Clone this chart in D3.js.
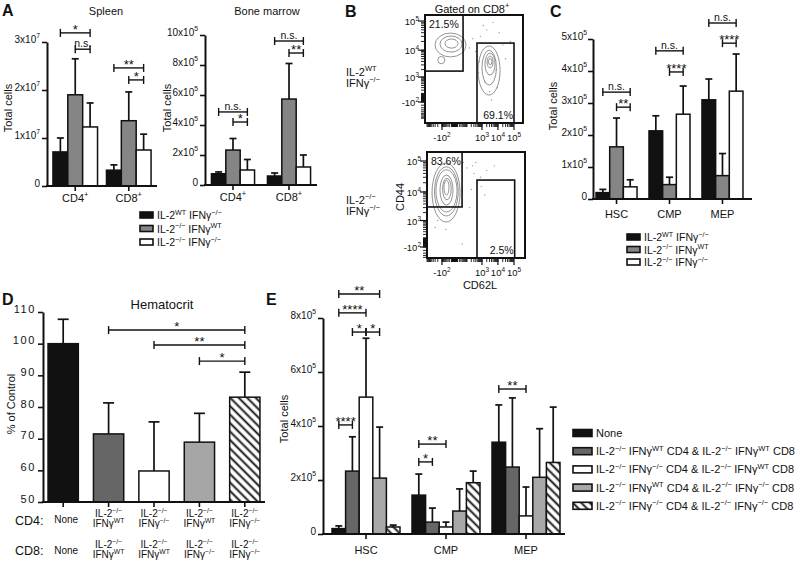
<!DOCTYPE html>
<html><head><meta charset="utf-8">
<script src="https://cdn.jsdelivr.net/npm/d3@7/dist/d3.min.js"></script>
<style>body{margin:0;background:#fff}svg{font-family:"Liberation Sans",Arial,sans-serif}</style>
</head><body>
<svg id="chart" width="800" height="565"></svg>
<script>
// ================= DATA =================
// Panel A
const cellTypesA = ["CD4^{+}", "CD8^{+}"];
const seriesNamesA = ["IL-2^{WT} IFNγ^{−/−}", "IL-2^{−/−} IFNγ^{WT}", "IL-2^{−/−} IFNγ^{−/−}"];
const spleenBlack = [7.1e6, 3.3e6], spleenBlackErr = [2.9e6, 1.1e6];
const spleenGray = [1.9e7, 1.36e7], spleenGrayErr = [7.5e6, 6.0e6];
const spleenWhite = [1.23e7, 7.5e6], spleenWhiteErr = [5.0e6, 3.3e6];
const spleenTicks = [0, 1e7, 2e7, 3e7];
const spleenTickLabels = ["0", "1x10^{7}", "2x10^{7}", "3x10^{7}"];
const spleenSig = [[0,0,0,2,3.19e7,"*"],[0,1,0,2,2.85e7,"n.s."],[1,0,1,2,2.46e7,"**"],[1,1,1,2,2.21e7,"*"]];
const bmBlack = [7.5e4, 6.0e4], bmBlackErr = [1.2e4, 2.0e4];
const bmGray = [2.33e5, 5.73e5], bmGrayErr = [7.7e4, 2.37e5];
const bmWhite = [1.0e5, 1.2e5], bmWhiteErr = [7.0e4, 8.0e4];
const bmTicks = [0, 2e5, 4e5, 6e5, 8e5, 1e6];
const bmTickLabels = ["0", "2x10^{5}", "4x10^{5}", "6x10^{5}", "8x10^{5}", "10x10^{5}"];
const bmSig = [[0,0,0,2,4.87e5,"n.s."],[0,1,0,2,4.2e5,"*"],[1,0,1,2,9.6e5,"n.s."],[1,1,1,2,8.8e5,"**"]];

// Panel B (flow cytometry, values in fluorescence units)
const flowTickValues = [-100, 1000, 10000, 100000];
const flowTickLabels = ["-10^{2}", "10^{3}", "10^{4}", "10^{5}"];
const flowTopGates = [[-1e5, 48, 1750, 1e7], [480, 1e5, -1e5, 17600]];
const flowTopPct = ["21.5%", "69.1%"];
const flowBottomGates = [[-1e5, 39, 3150, 1e7], [480, 1.1e5, -1e5, 24400]];
const flowBottomPct = ["83.6%", "2.5%"];
const flowTopRings = [[-306,84,38800,5800],[-140,39,30800,8600],[-58,13,24300,11800],[-200,-60,6000,3300],
  [563,13560,14000,58],[1000,8000,10000,420],[1550,6580,7950,1220],[2100,4970,6250,2300],[2600,4200,5200,3000]];
const flowBottomRings = [[-480,24,85700,870],[-330,14,65000,1500],[-264,8.7,52000,2100],[-140,-4.7,35500,3650],[-90,-12,28000,5500],[-70,-24,24400,7950]];
const flowTopDots = [[800,30000],[2000,50000],[5000,90000],[12000,40000],[400,9000],[1500,600],[3000,150],[8000,2000],
  [20000,15000],[250,25000],[700,4000],[4000,-50],[30000,5000],[1200,70000],[600,1500],[9000,300],[150,12000],[60000,20000]];
const flowBottomDots = [[100,60000],[300,40000],[500,20000],[50,90000],[200,12000],[-200,1000],[-50,400],[40,-30],
  [800,30000],[2000,50000],[-300,500],[150,3000],[1500,8000],[400,90000],[6000,70000],[900,15000],[250,70000]];

// Panel C
const progenitorsC = ["HSC", "CMP", "MEP"];
const cBlack = [2.0e4, 2.13e5, 3.1e5], cBlackErr = [1.0e4, 4.7e4, 6.5e4];
const cGray = [1.63e5, 4.5e4, 7.3e4], cGrayErr = [9.0e4, 2.3e4, 6.9e4];
const cWhite = [3.8e4, 2.65e5, 3.37e5], cWhiteErr = [2.2e4, 8.8e4, 1.16e5];
const cTicks = [0, 1e5, 2e5, 3e5, 4e5, 5e5];
const cTickLabels = ["0", "1x10^{5}", "2x10^{5}", "3x10^{5}", "4x10^{5}", "5x10^{5}"];
const cSig = [[0,0,0,2,3.34e5,"n.s."],[0,1,0,2,2.87e5,"**"],[1,0,1,2,4.63e5,"n.s."],[1,1,1,2,3.97e5,"****"],[2,0,2,2,5.5e5,"n.s."],[2,1,2,2,4.87e5,"****"]];

// Panel D
const groupsD = ["None", "A", "B", "C", "D"];
const cd4LabelsD = ["None", "IL-2^{−/−}|IFNγ^{WT}", "IL-2^{−/−}|IFNγ^{−/−}", "IL-2^{−/−}|IFNγ^{WT}", "IL-2^{−/−}|IFNγ^{−/−}"];
const cd8LabelsD = ["None", "IL-2^{−/−}|IFNγ^{WT}", "IL-2^{−/−}|IFNγ^{WT}", "IL-2^{−/−}|IFNγ^{−/−}", "IL-2^{−/−}|IFNγ^{−/−}"];
const hematocrit = [100, 71.5, 59.8, 68.9, 83.1];
const hematocritErr = [7.7, 9.8, 15.5, 9.1, 7.9];
const dTicks = [50, 60, 70, 80, 90, 100, 110];
const dTickLabels = ["50", "60", "70", "80", "90", "100", "110"];
const dSig = [[1,0,4,0,104.3,"*"],[2,0,4,0,99.6,"**"],[3,0,4,0,94.5,"*"]];

// Panel E
const progenitorsE = ["HSC", "CMP", "MEP"];
const seriesNamesE = ["None",
  "IL-2^{−/−} IFNγ^{WT} CD4 & IL-2^{−/−} IFNγ^{WT} CD8",
  "IL-2^{−/−} IFNγ^{−/−} CD4 & IL-2^{−/−} IFNγ^{WT} CD8",
  "IL-2^{−/−} IFNγ^{WT} CD4 & IL-2^{−/−} IFNγ^{−/−} CD8",
  "IL-2^{−/−} IFNγ^{−/−} CD4 & IL-2^{−/−} IFNγ^{−/−} CD8"];
const eNone = [2.0e4, 1.44e5, 3.4e5], eNoneErr = [1.0e4, 7.8e4, 1.38e5];
const eWtWt = [2.33e5, 4.4e4, 2.48e5], eWtWtErr = [1.27e5, 5.2e4, 2.56e5];
const eKoWt = [5.07e5, 2.6e4, 6.7e4], eKoWtErr = [2.18e5, 1.8e4, 1.07e5];
const eWtKo = [2.07e5, 8.5e4, 2.1e5], eWtKoErr = [1.89e5, 8.2e4, 1.8e5];
const eKoKo = [2.6e4, 1.9e5, 2.65e5], eKoKoErr = [7.0e3, 4.3e4, 2.05e5];
const eTicks = [0, 2e5, 4e5, 6e5, 8e5];
const eTickLabels = ["0", "2x10^{5}", "4x10^{5}", "6x10^{5}", "8x10^{5}"];
const eSig = [[0,0,0,3,8.89e5,"**"],[0,0,0,2,8.19e5,"****"],[0,1,0,2,7.48e5,"*"],[0,2,0,3,7.48e5,"*"],
  [0,0,0,1,4.04e5,"****"],[1,0,1,2,3.33e5,"**"],[1,0,1,1,2.67e5,"*"],[2,0,2,2,5.37e5,"**"]];

// ================= DRAWING =================
const INK = "#111";
const svg = d3.select("#chart");
const defs = svg.append("defs");
const pat = defs.append("pattern").attr("id","hatch").attr("patternUnits","userSpaceOnUse")
  .attr("width",6).attr("height",6).attr("patternTransform","rotate(-45)");
pat.append("rect").attr("width",6).attr("height",6).attr("fill","#fff");
pat.append("line").attr("x1",1.5).attr("x2",1.5).attr("y1",0).attr("y2",6).attr("stroke",INK).attr("stroke-width",1.9);

function rich(t, str, fs){
  const parts = str.split(/(\^\{[^}]*\})/).filter(s => s.length > 0);
  let up = false; const sh = +(fs*0.42).toFixed(2);
  for (const p of parts){
    if (p.startsWith("^{")){ t.append("tspan").attr("dy", up?0:-sh).attr("font-size", fs*0.68).text(p.slice(2,-1)); up = true; }
    else { t.append("tspan").attr("dy", up?sh:0).attr("font-size", fs).text(p); up = false; }
  }
  return t;
}
function label(g, x, y, str, fs, anchor="start", weight=null){
  const t = g.append("text").attr("x",x).attr("y",y).attr("font-size",fs).attr("text-anchor",anchor).attr("fill",INK);
  if (weight) t.attr("font-weight", weight);
  return rich(t, str, fs);
}
function bracket(g, x1, x2, y, txt){
  g.append("line").attr("x1",x1).attr("x2",x2).attr("y1",y).attr("y2",y).attr("stroke",INK).attr("stroke-width",1.4);
  [x1,x2].forEach(x => g.append("line").attr("x1",x).attr("x2",x).attr("y1",y-4).attr("y2",y+4).attr("stroke",INK).attr("stroke-width",1.4));
  const star = txt.startsWith("*");
  g.append("text").attr("x",(x1+x2)/2).attr("y", star ? y+1 : y-2).attr("text-anchor","middle")
    .attr("font-size", star ? 13 : 10.5).attr("fill",INK).text(txt);
}

function barPanel(o){
  const g = svg.append("g");
  const x0 = d3.scaleBand().domain(d3.range(o.cats.length)).range(o.xRange).paddingInner(o.pi).paddingOuter(o.po);
  const x1 = d3.scaleBand().domain(d3.range(o.series.length)).range([0, x0.bandwidth()]);
  const base = o.y(o.y.domain()[0]);
  const cx = (c,s) => x0(c) + x1(s) + x1.bandwidth()/2;
  o.series.forEach((s, si) => {
    s.vals.forEach((v, ci) => {
      const x = x0(ci) + x1(si), w = x1.bandwidth(), top = o.y(v), et = o.y(v + s.errs[ci]);
      const fill = Array.isArray(s.fill) ? s.fill[ci] : s.fill;
      g.append("line").attr("x1",x+w/2).attr("x2",x+w/2).attr("y1",top).attr("y2",et).attr("stroke",INK).attr("stroke-width",1.7);
      g.append("line").attr("x1",x+w/2-o.cap/2).attr("x2",x+w/2+o.cap/2).attr("y1",et).attr("y2",et).attr("stroke",INK).attr("stroke-width",1.7);
      g.append("rect").attr("x",x).attr("y",top).attr("width",w).attr("height",base-top)
        .attr("fill",fill).attr("stroke",INK).attr("stroke-width",1.5);
    });
  });
  // y axis
  const ya = g.append("g").attr("transform",`translate(${o.xRange[0]},0)`)
    .call(d3.axisLeft(o.y).tickValues(o.yTicks).tickSize(5).tickSizeOuter(0).tickPadding(o.tp || 2));
  ya.attr("font-family", null).attr("font-size", null);
  ya.select(".domain").attr("stroke",INK).attr("stroke-width",2);
  ya.selectAll(".tick line").attr("stroke",INK).attr("stroke-width",1.6);
  ya.selectAll(".tick text").each(function(d,i){
    const t = d3.select(this).text(null).attr("font-size",o.fs).attr("fill",INK);
    if (o.ls) t.attr("letter-spacing", o.ls);
    rich(t, o.yLabels[i], o.fs);
  });
  // x axis
  g.append("line").attr("x1",o.xRange[0]-1).attr("x2",o.axisEnd).attr("y1",base).attr("y2",base).attr("stroke",INK).attr("stroke-width",2);
  const tickXs = o.tickEachBar ? o.cats.map((c,ci)=>cx(ci,0)) : o.cats.map((c,ci)=>x0(ci)+x0.bandwidth()/2);
  tickXs.forEach(tx => g.append("line").attr("x1",tx).attr("x2",tx).attr("y1",base).attr("y2",base+5).attr("stroke",INK).attr("stroke-width",1.6));
  if (o.xLabels) o.cats.forEach((c,ci) => label(g, tickXs[ci], base + o.xlOff, c, 11, "middle"));
  // y title
  if (o.yTitle){
    g.append("text").attr("transform",`translate(${o.ytX},${o.ytY}) rotate(-90)`).attr("text-anchor","middle")
      .attr("font-size",o.ytFs || 11).attr("fill",INK).text(o.yTitle);
  }
  (o.sig||[]).forEach(s => bracket(g, cx(s[0],s[1]), cx(s[2],s[3]), o.y(s[4]), s[5]));
  return {g, x0, x1, cx, base};
}

const fillsA = ["#111", "#858585", "#fff"];

// ---- Panel A ----
label(svg, 2, 16, "A", 16, "start", "bold");
label(svg, 106, 15, "Spleen", 11, "middle");
barPanel({cats: cellTypesA, xRange:[47,157], pi:0.167, po:0.111, axisEnd:157,
  y: d3.scaleLinear().domain([0,3e7]).range([186,42]), yTicks: spleenTicks, yLabels: spleenTickLabels, fs:10,
  series:[{vals:spleenBlack,errs:spleenBlackErr,fill:fillsA[0]},{vals:spleenGray,errs:spleenGrayErr,fill:fillsA[1]},{vals:spleenWhite,errs:spleenWhiteErr,fill:fillsA[2]}],
  cap:7, xLabels:true, xlOff:16, yTitle:"Total cells", ytX:12, ytY:108, sig: spleenSig});
label(svg, 267, 15, "Bone marrow", 11, "middle");
barPanel({cats: cellTypesA, xRange:[205,317], pi:0.23, po:0.115, axisEnd:317,
  y: d3.scaleLinear().domain([0,1e6]).range([185,35]), yTicks: bmTicks, yLabels: bmTickLabels, fs:10,
  series:[{vals:bmBlack,errs:bmBlackErr,fill:fillsA[0]},{vals:bmGray,errs:bmGrayErr,fill:fillsA[1]},{vals:bmWhite,errs:bmWhiteErr,fill:fillsA[2]}],
  cap:7, xLabels:true, xlOff:16, yTitle:"Total cells", ytX:171, ytY:108, sig: bmSig});
function legend(x, y0, dy, bw, bh, names, fills, fs){
  names.forEach((n,i) => {
    const y = y0 + i*dy;
    svg.append("rect").attr("x",x).attr("y",y-bh/2).attr("width",bw).attr("height",bh).attr("fill",fills[i]).attr("stroke",INK).attr("stroke-width",1.6);
    label(svg, x+bw+4, y+4, n, fs);
  });
}
legend(140, 215, 13.5, 13, 6, seriesNamesA, fillsA, 10.5);

// ---- Panel B ----
label(svg, 345, 17, "B", 16, "start", "bold");
label(svg, 472, 13, "Gated on CD8^{+}", 11, "middle");
label(svg, 346, 76, "IL-2^{WT}", 11); label(svg, 346, 87, "IFNγ^{−/−}", 11);
label(svg, 346, 204, "IL-2^{−/−}", 11); label(svg, 346, 215, "IFNγ^{−/−}", 11);

function flowPlot(p){
  const g = svg.append("g");
  const [fx0, fy0, fx1, fy1] = p.frame;
  const sx = d3.scaleSymlog().constant(20).domain([-100,1e5]).range(p.xr);
  const sy = d3.scaleSymlog().constant(250).domain([-100,1e5]).range(p.yr);
  const cX = v => Math.max(fx0, Math.min(fx1, sx(v)));
  const cY = v => Math.max(fy0, Math.min(fy1, sy(v)));
  p.dots.forEach(d => g.append("circle").attr("cx",sx(d[0])).attr("cy",sy(d[1])).attr("r",0.7).attr("fill","#999"));
  p.rings.forEach((r,i) => {
    const x1 = sx(r[0]), x2 = sx(r[1]), y1 = sy(r[2]), y2 = sy(r[3]);
    g.append("ellipse").attr("cx",(x1+x2)/2).attr("cy",(y1+y2)/2).attr("rx",Math.abs(x2-x1)/2).attr("ry",Math.abs(y2-y1)/2)
      .attr("fill","none").attr("stroke","#777").attr("stroke-width",0.8);
  });
  p.gates.forEach(q => {
    const x1 = cX(q[0]), x2 = cX(q[1]), y1 = cY(q[3]), y2 = cY(q[2]);
    g.append("rect").attr("x",x1).attr("y",y1).attr("width",x2-x1).attr("height",y2-y1).attr("fill","none").attr("stroke",INK).attr("stroke-width",1.6);
  });
  const g0 = p.gates[0], g1 = p.gates[1];
  label(g, cX(g0[0])+4, cY(g0[3])+13, p.pct[0], 10.5);
  label(g, cX(g1[1])-1, fy1-4, p.pct[1], 10.5, "end");
  g.append("rect").attr("x",fx0).attr("y",fy0).attr("width",fx1-fx0).attr("height",fy1-fy0).attr("fill","none").attr("stroke",INK).attr("stroke-width",2);
  const minor = [];
  [1,10,100,1000,10000].forEach(dec => d3.range(1,10).forEach(m => { minor.push(m*dec); if (m*dec <= 1000) minor.push(-m*dec); }));
  minor.push(0);
  minor.forEach(v => {
    const x = sx(v); if (x >= fx0 && x <= fx1) g.append("line").attr("x1",x).attr("x2",x).attr("y1",fy1+1).attr("y2",fy1+4).attr("stroke",INK).attr("stroke-width",0.9);
    const y = sy(v); if (y >= fy0 && y <= fy1) g.append("line").attr("x1",fx0-1).attr("x2",fx0-4).attr("y1",y).attr("y2",y).attr("stroke",INK).attr("stroke-width",0.9);
  });
  flowTickValues.forEach((v,i) => {
    const x = sx(v), y = sy(v);
    g.append("line").attr("x1",x).attr("x2",x).attr("y1",fy1+1).attr("y2",fy1+7).attr("stroke",INK).attr("stroke-width",1.2);
    g.append("line").attr("x1",fx0-1).attr("x2",fx0-7).attr("y1",y).attr("y2",y).attr("stroke",INK).attr("stroke-width",1.2);
    label(g, x, fy1+18, flowTickLabels[i], 9.5, "middle");
    label(g, fx0-6, y+4, flowTickLabels[i], 9.5, "end");
  });
}
flowPlot({frame:[425,15,523,123], xr:[442,514], yr:[102,21], gates:flowTopGates, pct:flowTopPct, rings:flowTopRings, dots:flowTopDots});
flowPlot({frame:[427,152,525,258], xr:[442,514], yr:[247,161], gates:flowBottomGates, pct:flowBottomPct, rings:flowBottomRings, dots:flowBottomDots});
svg.append("text").attr("x",480).attr("y",289).attr("text-anchor","middle").attr("font-size",11).attr("fill",INK).text("CD62L");
svg.append("text").attr("transform","translate(404,197) rotate(-90)").attr("text-anchor","middle").attr("font-size",11).attr("fill",INK).text("CD44");

// ---- Panel C ----
label(svg, 550, 17, "C", 16, "start", "bold");
barPanel({cats: progenitorsC, xRange:[593,746], pi:0.226, po:0.057, axisEnd:752,
  y: d3.scaleLinear().domain([0,5e5]).range([199,39]), yTicks: cTicks, yLabels: cTickLabels, fs:10, tp:1,
  series:[{vals:cBlack,errs:cBlackErr,fill:fillsA[0]},{vals:cGray,errs:cGrayErr,fill:fillsA[1]},{vals:cWhite,errs:cWhiteErr,fill:fillsA[2]}],
  cap:7, xLabels:true, xlOff:19, yTitle:"Total cells", ytX:557, ytY:106, sig: cSig});
legend(627, 237, 12.5, 13, 6, seriesNamesA, fillsA, 10.5);

// ---- Panel D ----
label(svg, 2, 305, "D", 16, "start", "bold");
label(svg, 162, 309, "Hematocrit", 13, "middle");
const dP = barPanel({cats: groupsD, xRange:[43,265], pi:0.333, po:0.111, axisEnd:265,
  y: d3.scaleLinear().domain([50,110]).range([502,312]), yTicks: dTicks, yLabels: dTickLabels, fs:11, ls:1.6,
  series:[{vals:hematocrit, errs:hematocritErr, fill:["#111","#666","#fff","#a6a6a6","url(#hatch)"]}],
  cap:11, tickEachBar:true, xLabels:false, yTitle:"% of Control", ytX:15, ytY:404, sig: dSig});
label(svg, 15, 525, "CD4:", 12.5);
label(svg, 15, 555, "CD8:", 12.5);
[[cd4LabelsD, 517], [cd8LabelsD, 548]].forEach(([labs, yb]) => {
  labs.forEach((s, i) => {
    const x = dP.cx(i,0);
    if (s === "None") label(svg, x+3, yb+6, s, 10, "middle");
    else { const [a,b] = s.split("|"); label(svg, x, yb, a, 10, "middle"); label(svg, x, yb+10, b, 10, "middle"); }
  });
});

// ---- Panel E ----
label(svg, 266, 305, "E", 16, "start", "bold");
const fillsE = ["#111", "#666", "#fff", "#a8a8a8", "url(#hatch)"];
barPanel({cats: progenitorsE, xRange:[323,569], pi:0.15, po:0.1125, axisEnd:565,
  y: d3.scaleLinear().domain([0,8e5]).range([534,318]), yTicks: eTicks, yLabels: eTickLabels, fs:10,
  series:[{vals:eNone,errs:eNoneErr,fill:fillsE[0]},{vals:eWtWt,errs:eWtWtErr,fill:fillsE[1]},{vals:eKoWt,errs:eKoWtErr,fill:fillsE[2]},
          {vals:eWtKo,errs:eWtKoErr,fill:fillsE[3]},{vals:eKoKo,errs:eKoKoErr,fill:fillsE[4]}],
  cap:7, xLabels:true, xlOff:20, yTitle:"Total cells", ytX:288, ytY:419, sig: eSig});
legend(573, 433, 18.2, 19, 7, seriesNamesE, fillsE, 11);
</script>
</body></html>
